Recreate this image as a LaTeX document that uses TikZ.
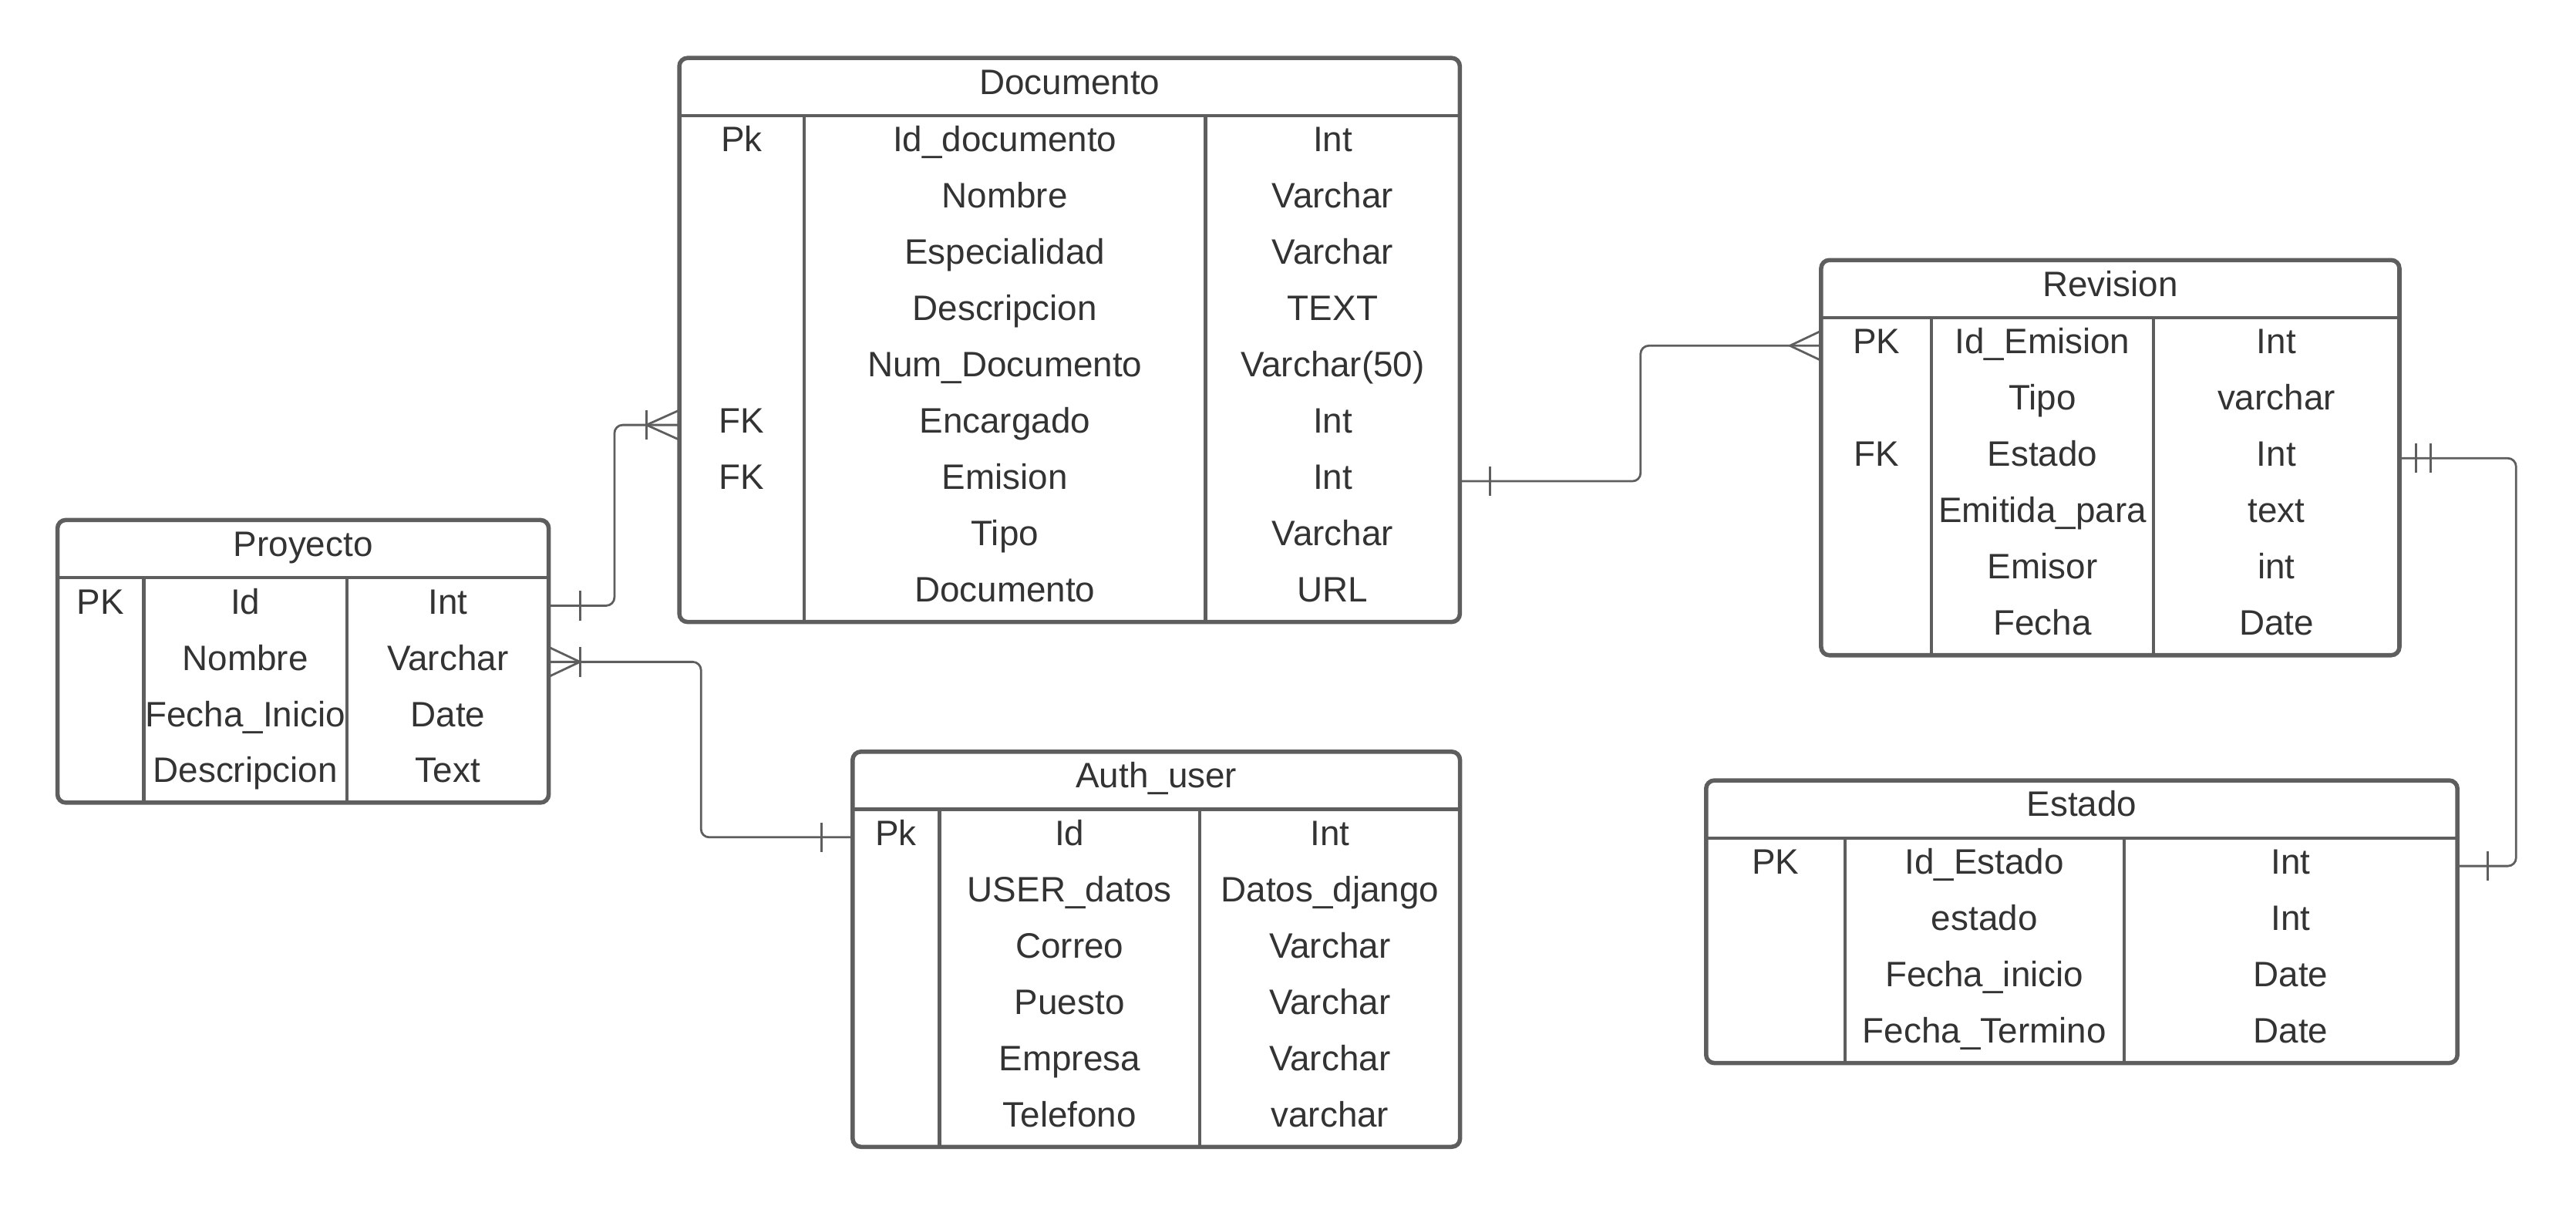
\documentclass[tikz,border=0pt]{standalone}
\usepackage{fontspec}
\setmainfont{Liberation Sans}

\definecolor{linegray}{HTML}{5E5E5E}
\definecolor{textgray}{HTML}{333333}

\tikzset{
    tbl/.style={draw=linegray, line width=2.6pt, rounded corners=5pt, inner sep=0pt, outer sep=0pt},
    tblline/.style={draw=linegray, line width=2pt},
    cell/.style={anchor=base, inner sep=0pt, text=textgray, font=\fontsize{21.5}{25}\selectfont},
    rel/.style={draw=linegray, line width=1.3pt, line join=round},
}

% one table: #1 name, #2 left, #3 top, #4 right, #5 rows,
% #6 and #7 column dividers, #8 title, #9 key/field/type rows
\newcommand{\ertable}[9]{%
    \draw[tblline] ([yshift=-35pt]#2,#3) -- ([yshift=-35pt]#4,#3);
    \draw[tblline] (#6,{#3+35}) -- (#6,{#3+35+#5*34.25});
    \draw[tblline] (#7,{#3+35}) -- (#7,{#3+35+#5*34.25});
    \node[tbl, anchor=north west, minimum width={(#4-#2)*1pt},
          minimum height={(35+#5*34.25)*1pt}] (#1) at (#2,#3) {};
    \node[cell] (#1-title) at ([yshift=-22pt]#1.north) {#8};
    \foreach \kk/\fld/\typ [count=\i] in {#9} {
        \coordinate (#1-\i) at (#2,{#3+52.1+(\i-1)*34.25});
        \node[cell] (#1-k\i) at ({(#2+#6)/2},{#3+57.1+(\i-1)*34.25}) {\kk};
        \node[cell] (#1-f\i) at ({(#6+#7)/2},{#3+57.1+(\i-1)*34.25}) {\fld};
        \node[cell] (#1-t\i) at ({(#7+#4)/2},{#3+57.1+(\i-1)*34.25}) {\typ};
    }%
}

% relation ends: a bar, and a crow's foot with its tip at #2
\newcommand{\onebar}[2]{\draw[rel, line width=1.5pt] (#1) ++(#2,-9) -- ++(0,18);}
\newcommand{\crowfoot}[2]{\draw[rel] (#1) ++(0,-9) -- ++(#2,9) -- ++({-1*(#2)},9);}

\begin{document}
\begin{tikzpicture}[x=1pt, y=-1pt]
    \useasboundingbox (0,0) rectangle (1568,734);

    % tables
    \ertable{doc}{413.5}{35.3}{888.6}{9}{489.5}{733.8}{Documento}{%
        Pk/Id\_documento/Int, {}/Nombre/Varchar, {}/Especialidad/Varchar,
        {}/Descripcion/TEXT, {}/Num\_Documento/Varchar(50), FK/Encargado/Int,
        FK/Emision/Int, {}/Tipo/Varchar, {}/Documento/URL}
    \ertable{proy}{35}{316.5}{334}{4}{87.5}{211.2}{Proyecto}{%
        PK/Id/Int, {}/Nombre/Varchar, {}/Fecha\_Inicio/Date, {}/Descripcion/Text}
    \ertable{auth}{519}{457.5}{888.7}{6}{571.8}{730.3}{Auth\_user}{%
        Pk/Id/Int, {}/USER\_datos/Datos\_django, {}/Correo/Varchar,
        {}/Puesto/Varchar, {}/Empresa/Varchar, {}/Telefono/varchar}
    \ertable{rev}{1108.5}{158.3}{1460.5}{6}{1175.8}{1310.7}{Revision}{%
        PK/Id\_Emision/Int, {}/Tipo/varchar, FK/Estado/Int,
        {}/Emitida\_para/text, {}/Emisor/int, {}/Fecha/Date}
    \ertable{est}{1038.5}{475}{1495.8}{4}{1123}{1292.8}{Estado}{%
        PK/Id\_Estado/Int, {}/estado/Int, {}/Fecha\_inicio/Date, {}/Fecha\_Termino/Date}

    % Proyecto -- Documento
    \draw[rel, rounded corners=5pt] (proy.east |- proy-1) -- ++(40,0) |- (doc.west |- doc-6);
    \onebar{proy.east |- proy-1}{19}
    \onebar{doc.west |- doc-6}{-20}
    \crowfoot{doc.west |- doc-6}{-20}

    % Proyecto -- Auth_user
    \draw[rel, rounded corners=5pt] (proy.east |- proy-2) -- ++(92.7,0) |- (auth.west |- auth-1);
    \onebar{proy.east |- proy-2}{19}
    \crowfoot{proy.east |- proy-2}{19}
    \onebar{auth.west |- auth-1}{-19}

    % Documento -- Revision
    \draw[rel, rounded corners=5pt] (doc.east |- doc-7) -- ++(110,0) |- (rev.west |- rev-1);
    \onebar{doc.east |- doc-7}{18.5}
    \crowfoot{rev.west |- rev-1}{-19}

    % Revision -- Estado
    \draw[rel, rounded corners=5pt] (rev.east |- rev-3) -- ++(71,0) |- (est.east |- est-1);
    \onebar{rev.east |- rev-3}{10}
    \onebar{rev.east |- rev-3}{19}
    \onebar{est.east |- est-1}{18.6}
\end{tikzpicture}
\end{document}
